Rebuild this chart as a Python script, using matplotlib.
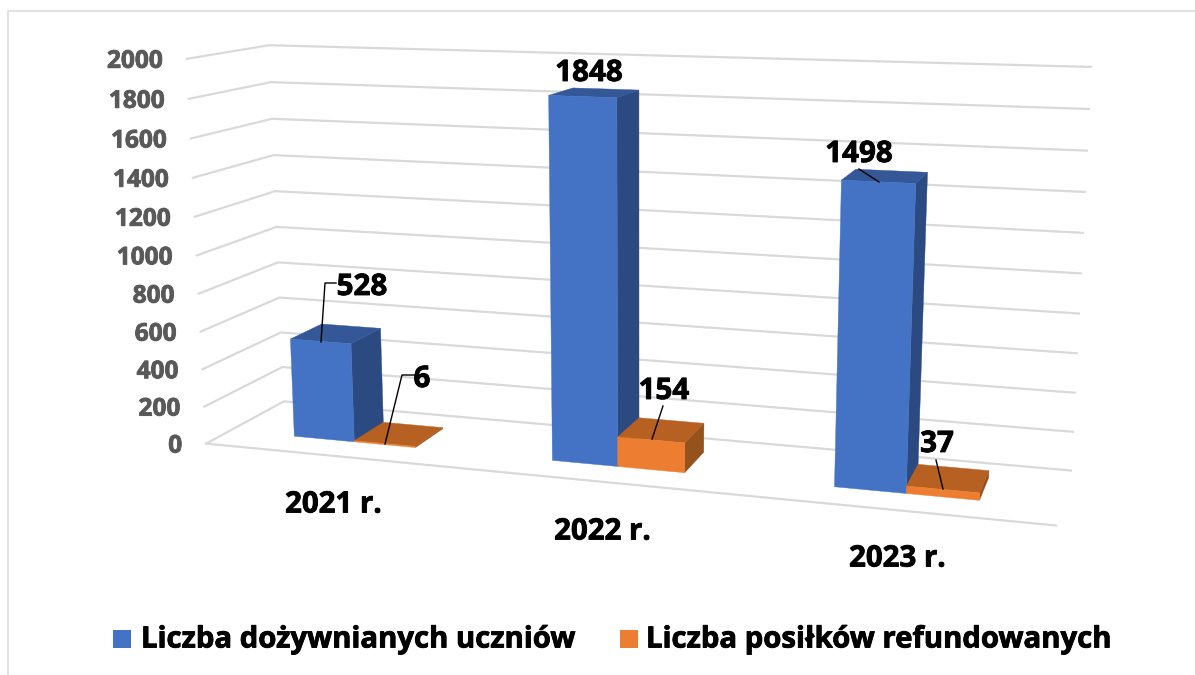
import numpy as np
import matplotlib
matplotlib.use('Agg')
import matplotlib.pyplot as plt
import matplotlib.patheffects as pe
from matplotlib.patches import Polygon, Rectangle

plt.rcParams['font.family'] = ['Open Sans', 'DejaVu Sans']
plt.rcParams['font.weight'] = 'bold'

categories = ['2021 r.', '2022 r.', '2023 r.']
series_names = ['Liczba dożywnianych uczniów', 'Liczba posiłków refundowanych']
uczniowie = [528, 1848, 1498]
posilki = [6, 154, 37]
y_ticks = [0, 200, 400, 600, 800, 1000, 1200, 1400, 1600, 1800, 2000]

# colours: front, top, side
blue = ('#4472C4', '#335797', '#2B4A82')
orange = ('#ED7D31', '#B66121', '#96521D')
grid = '#D9D9D9'

# box corners (category, depth, value) and where they sit on the picture
box_world = np.array([[0, 0, 0], [0, 1, 0], [3, 1, 0], [3, 0, 0], [0, 0, 2000], [0, 1, 2000], [3, 1, 2000]], float)
box_pix = np.array([[207, 443], [283, 402], [1071, 470], [1056, 526], [186, 59], [270, 45], [1091, 67]], float)


def fit_camera(world, pix):
    rows = []
    for (x, y, z), (u, v) in zip(world, pix):
        z = z / 2000
        rows.append([x, y, z, 1, 0, 0, 0, 0, -u * x, -u * y, -u * z, -u])
        rows.append([0, 0, 0, 0, x, y, z, 1, -v * x, -v * y, -v * z, -v])
    return np.linalg.svd(np.array(rows))[2][-1].reshape(3, 4)


camera = fit_camera(box_world, box_pix)


def proj(x, y, z):
    w = camera @ np.array([x, y, z / 2000, 1.0])
    return w[0] / w[2], w[1] / w[2]


def bar(ax, x0, x1, value, colors, y0=0.30, y1=0.72):
    front, top, side = colors
    ax.add_patch(Polygon([proj(x1, y0, 0), proj(x1, y1, 0), proj(x1, y1, value), proj(x1, y0, value)],
                         closed=True, fc=side, ec=side, lw=0.3, zorder=3))
    ax.add_patch(Polygon([proj(x0, y0, value), proj(x1, y0, value), proj(x1, y1, value), proj(x0, y1, value)],
                         closed=True, fc=top, ec=top, lw=0.3, zorder=3))
    ax.add_patch(Polygon([proj(x0, y0, 0), proj(x1, y0, 0), proj(x1, y0, value), proj(x0, y0, value)],
                         closed=True, fc=front, ec=front, lw=0.3, zorder=3))


def heavy(color):
    # the installed bold is a little lighter than the reference
    return [pe.withStroke(linewidth=0.6, foreground=color)]


fig = plt.figure(figsize=(11.95, 6.75), dpi=100)
ax = fig.add_axes([0, 0, 1, 1])
ax.set_xlim(0, 1195)
ax.set_ylim(675, 0)
ax.axis('off')

# chart frame
ax.plot([8.5, 8.5, 1195], [675, 10.5, 10.5], color=grid, lw=1.1)

# grid on the two walls
for v in y_ticks:
    pts = [proj(0, 0, v), proj(0, 1, v), proj(3, 1, v)]
    ax.plot([p[0] for p in pts], [p[1] for p in pts], color=grid, lw=1.6, solid_joinstyle='miter')
    ax.text(pts[0][0] - 24, pts[0][1] + 3, str(v), ha='right', va='center', color='#595959', fontsize=17.6,
            path_effects=heavy('#595959'))
a, b = proj(0, 0, 0), proj(3, 0, 0)
ax.plot([a[0], b[0]], [a[1], b[1]], color=grid, lw=1.6)

for i in range(3):
    bar(ax, i + 0.26, i + 0.5, uczniowie[i], blue)
    bar(ax, i + 0.5, i + 0.74, posilki[i], orange)

# leader lines
leaders = [([321, 325, 336], [342, 283, 283]),
           ([385, 402, 414], [444, 375, 375]),
           ([652, 663], [439, 406]),
           ([943, 936], [489, 460]),
           ([879, 859], [182, 169])]
for xs, ys in leaders:
    ax.plot(xs, ys, color='black', lw=1.0, zorder=4)

# value labels
labels = [uczniowie[0], posilki[0], posilki[1], posilki[2], uczniowie[2], uczniowie[1]]
label_x = [362, 422, 664, 937, 859, 589]
label_y = [287, 379, 391, 444, 154, 73]
for val, lx, ly in zip(labels, label_x, label_y):
    ax.text(lx, ly, str(val), ha='center', va='center', color='black', fontsize=21.3, zorder=5,
            path_effects=heavy('black'))

cat_x = [333, 602, 897]
cat_y = [505, 532, 559]
for name, cx, cy in zip(categories, cat_x, cat_y):
    ax.text(cx, cy, name, ha='center', va='center', color='black', fontsize=21.2, zorder=5,
            path_effects=heavy('black'))

# legend
ax.add_patch(Rectangle((113, 630), 18, 18, fc=blue[0], ec='none'))
ax.text(141, 640, series_names[0], ha='left', va='center', color='black', fontsize=21.1, path_effects=heavy('black'))
ax.add_patch(Rectangle((620, 630), 18, 18, fc=orange[0], ec='none'))
ax.text(646, 640, series_names[1], ha='left', va='center', color='black', fontsize=21.1, path_effects=heavy('black'))

fig.savefig('out.png', dpi=100)
